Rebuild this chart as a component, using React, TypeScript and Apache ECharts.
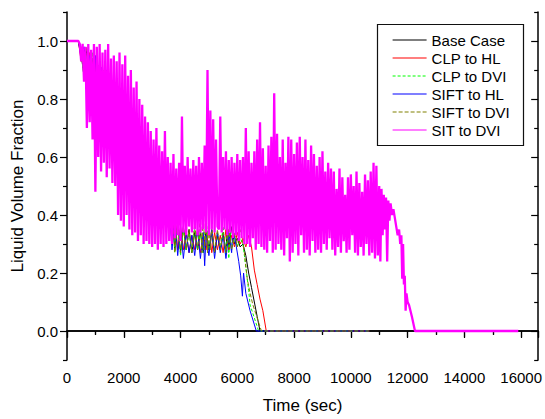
import { useEffect, useRef } from "react";
import * as echarts from "echarts";

const FONT = "'Liberation Sans', Arial, Helvetica, sans-serif";

const SERIES_NAMES = ["Base Case", "CLP to HL", "CLP to DVI", "SIFT to HL", "SIFT to DVI", "SIT to DVI"];
const SERIES_COLORS = ["#000000", "#ff0000", "#00ff00", "#0000ff", "#808000", "#ff00ff"];

const Y_MAJOR = [0, 0.2, 0.4, 0.6, 0.8, 1.0];

const BASE_CASE: number[][] = [
  [0, 1], [400, 1], [500, 0.95], [600, 0.88], [700, 0.97], [800, 0.85], [900, 0.94], [1000, 0.72],
  [1100, 0.9], [1200, 0.7], [1300, 0.88], [1400, 0.68], [1500, 0.86], [1600, 0.62], [1700, 0.84],
  [1800, 0.58], [1900, 0.78], [2000, 0.5], [2100, 0.76], [2200, 0.48], [2300, 0.72], [2400, 0.45],
  [2500, 0.66], [2600, 0.42], [2700, 0.62], [2800, 0.41], [2900, 0.58], [3000, 0.4], [3100, 0.55],
  [3200, 0.39], [3300, 0.52], [3400, 0.38], [3500, 0.48], [3600, 0.34], [3700, 0.42], [3800, 0.28],
  [3900, 0.38], [4000, 0.27], [4100, 0.36], [4200, 0.28], [4300, 0.35], [4400, 0.27], [4500, 0.34],
  [4600, 0.28], [4700, 0.34], [4800, 0.27], [4900, 0.35], [5000, 0.28], [5100, 0.34], [5200, 0.27],
  [5300, 0.33], [5400, 0.28], [5500, 0.34], [5600, 0.27], [5650, 0.37], [5700, 0.28], [5800, 0.36],
  [5900, 0.3], [6000, 0.32], [6100, 0.29], [6200, 0.3], [6300, 0.26], [6400, 0.2], [6500, 0.15],
  [6600, 0.1], [6700, 0.05], [6800, 0.0], [10650, 0.0],
];

const CLP_TO_HL: number[][] = [
  [0, 1], [400, 1], [500, 0.93], [600, 0.97], [700, 0.86], [800, 0.96], [900, 0.74], [1000, 0.93],
  [1100, 0.7], [1200, 0.9], [1300, 0.69], [1400, 0.87], [1500, 0.64], [1600, 0.85], [1700, 0.6],
  [1800, 0.8], [1900, 0.52], [2000, 0.78], [2100, 0.49], [2200, 0.74], [2300, 0.46], [2400, 0.69],
  [2500, 0.44], [2600, 0.64], [2700, 0.42], [2800, 0.6], [2900, 0.4], [3000, 0.56], [3100, 0.39],
  [3200, 0.53], [3300, 0.38], [3400, 0.5], [3500, 0.36], [3600, 0.44], [3700, 0.3], [3800, 0.4],
  [3900, 0.28], [4000, 0.36], [4100, 0.28], [4200, 0.34], [4300, 0.27], [4400, 0.33], [4500, 0.28],
  [4600, 0.35], [4700, 0.27], [4800, 0.33], [4900, 0.28], [5000, 0.36], [5100, 0.27], [5200, 0.34],
  [5300, 0.28], [5400, 0.33], [5500, 0.27], [5600, 0.35], [5700, 0.28], [5800, 0.33], [5900, 0.29],
  [6000, 0.34], [6100, 0.3], [6200, 0.32], [6300, 0.29], [6400, 0.33], [6500, 0.29], [6600, 0.21],
  [6700, 0.16], [6800, 0.11], [6900, 0.07], [7020, 0.0], [10650, 0.0],
];

const CLP_TO_DVI: number[][] = [
  [0, 1], [400, 1], [500, 0.97], [600, 0.87], [700, 0.95], [800, 0.84], [900, 0.96], [1000, 0.7],
  [1100, 0.92], [1200, 0.68], [1300, 0.89], [1400, 0.66], [1500, 0.87], [1600, 0.6], [1700, 0.82],
  [1800, 0.56], [1900, 0.8], [2000, 0.51], [2100, 0.75], [2200, 0.47], [2300, 0.71], [2400, 0.44],
  [2500, 0.67], [2600, 0.43], [2700, 0.63], [2800, 0.4], [2900, 0.57], [3000, 0.39], [3100, 0.54],
  [3200, 0.38], [3300, 0.51], [3400, 0.37], [3500, 0.47], [3600, 0.33], [3700, 0.41], [3800, 0.27],
  [3900, 0.37], [4000, 0.26], [4100, 0.35], [4200, 0.28], [4300, 0.34], [4400, 0.27], [4500, 0.36],
  [4600, 0.28], [4700, 0.34], [4800, 0.27], [4900, 0.39], [5000, 0.28], [5100, 0.35], [5200, 0.27],
  [5300, 0.34], [5400, 0.28], [5500, 0.36], [5600, 0.26], [5650, 0.35], [5700, 0.25], [5750, 0.34],
  [5800, 0.28], [5900, 0.33], [6000, 0.29], [6100, 0.32], [6200, 0.3], [6300, 0.22], [6400, 0.14],
  [6450, 0.09], [6550, 0.06], [6750, 0.0], [10650, 0.0],
];

const SIFT_TO_HL: number[][] = [
  [0, 1], [400, 1], [500, 0.94], [600, 0.98], [700, 0.88], [800, 0.95], [900, 0.76], [1000, 0.95],
  [1100, 0.71], [1200, 0.91], [1300, 0.67], [1400, 0.9], [1500, 0.63], [1600, 0.86], [1700, 0.59],
  [1800, 0.82], [1900, 0.53], [2000, 0.77], [2100, 0.5], [2200, 0.73], [2300, 0.47], [2400, 0.7],
  [2500, 0.43], [2600, 0.65], [2700, 0.41], [2800, 0.59], [2900, 0.39], [3000, 0.55], [3100, 0.38],
  [3200, 0.52], [3300, 0.37], [3400, 0.49], [3500, 0.35], [3600, 0.43], [3700, 0.28], [3800, 0.39],
  [3900, 0.26], [4000, 0.36], [4100, 0.25], [4200, 0.34], [4300, 0.27], [4400, 0.33], [4500, 0.26],
  [4600, 0.35], [4700, 0.25], [4800, 0.34], [4850, 0.225], [4900, 0.33], [5000, 0.26], [5100, 0.35],
  [5200, 0.25], [5300, 0.34], [5400, 0.27], [5500, 0.33], [5600, 0.25], [5700, 0.34], [5800, 0.27],
  [5850, 0.35], [5950, 0.3], [6050, 0.24], [6120, 0.19], [6180, 0.12], [6220, 0.2], [6300, 0.13],
  [6450, 0.07], [6670, 0.0], [10650, 0.0],
];

const SIFT_TO_DVI: number[][] = [
  [0, 1], [400, 1], [500, 0.96], [600, 0.9], [700, 0.98], [800, 0.86], [900, 0.93], [1000, 0.73],
  [1100, 0.91], [1200, 0.69], [1300, 0.9], [1400, 0.67], [1500, 0.85], [1600, 0.61], [1700, 0.83],
  [1800, 0.57], [1900, 0.79], [2000, 0.52], [2100, 0.77], [2200, 0.49], [2300, 0.73], [2400, 0.46],
  [2500, 0.68], [2600, 0.43], [2700, 0.61], [2800, 0.42], [2900, 0.59], [3000, 0.4], [3100, 0.56],
  [3200, 0.39], [3300, 0.53], [3400, 0.38], [3500, 0.48], [3600, 0.35], [3700, 0.42], [3800, 0.27],
  [3900, 0.38], [4000, 0.27], [4100, 0.36], [4200, 0.28], [4300, 0.35], [4400, 0.27], [4500, 0.37],
  [4600, 0.28], [4700, 0.4], [4750, 0.27], [4800, 0.42], [4850, 0.28], [4900, 0.38], [4950, 0.27],
  [5000, 0.4], [5050, 0.28], [5100, 0.36], [5200, 0.27], [5300, 0.35], [5400, 0.28], [5500, 0.34],
  [5600, 0.27], [5700, 0.35], [5800, 0.28], [5900, 0.34], [6000, 0.29], [6100, 0.35], [6150, 0.33],
  [6250, 0.27], [6350, 0.18], [6450, 0.13], [6550, 0.09], [6650, 0.06], [6850, 0.0], [10650, 0.0],
];

// SIT to DVI: sampled every 50 s from 400 s to 11000 s, plus head and tail
const SIT_HEAD: number[][] = [[0, 1]];
const SIT_START = 400;
const SIT_STEP = 50;
const SIT_VALUES: number[] = [
  1.0, 0.99, 0.93, 0.99, 0.86, 0.98, 0.7, 0.99, 0.72, 0.97,
  0.66, 0.99, 0.48, 0.98, 0.6, 0.99, 0.55, 0.96, 0.58, 0.97,
  0.53, 0.99, 0.56, 0.94, 0.51, 0.95, 0.5, 0.93, 0.4, 0.96,
  0.38, 0.92, 0.36, 0.95, 0.4, 0.88, 0.35, 0.9, 0.33, 0.84,
  0.34, 0.86, 0.31, 0.8, 0.33, 0.78, 0.3, 0.74, 0.31, 0.72,
  0.3, 0.69, 0.29, 0.66, 0.3, 0.7, 0.28, 0.64, 0.3, 0.62,
  0.29, 0.69, 0.3, 0.6, 0.31, 0.58, 0.3, 0.61, 0.32, 0.56,
  0.33, 0.58, 0.31, 0.74, 0.34, 0.57, 0.33, 0.6, 0.36, 0.56,
  0.34, 0.59, 0.35, 0.57, 0.33, 0.6, 0.34, 0.58, 0.35, 0.64,
  0.34, 0.9, 0.33, 0.76, 0.35, 0.73, 0.34, 0.66, 0.36, 0.35,
  0.74, 0.34, 0.6, 0.35, 0.62, 0.33, 0.59, 0.34, 0.6, 0.32,
  0.58, 0.33, 0.61, 0.31, 0.59, 0.32, 0.6, 0.3, 0.7, 0.3,
  0.62, 0.29, 0.58, 0.32, 0.62, 0.28, 0.66, 0.3, 0.72, 0.29,
  0.63, 0.28, 0.57, 0.27, 0.64, 0.31, 0.67, 0.27, 0.82, 0.28,
  0.68, 0.3, 0.6, 0.28, 0.66, 0.26, 0.58, 0.32, 0.67, 0.24,
  0.66, 0.27, 0.61, 0.3, 0.65, 0.26, 0.67, 0.33, 0.6, 0.27,
  0.66, 0.28, 0.59, 0.26, 0.64, 0.31, 0.61, 0.27, 0.57, 0.28,
  0.6, 0.27, 0.62, 0.3, 0.55, 0.28, 0.58, 0.32, 0.56, 0.28,
  0.55, 0.26, 0.49, 0.29, 0.56, 0.27, 0.53, 0.31, 0.47, 0.27,
  0.53, 0.28, 0.54, 0.33, 0.5, 0.27, 0.55, 0.26, 0.51, 0.29,
  0.48, 0.26, 0.54, 0.3, 0.52, 0.26, 0.55, 0.27, 0.58, 0.25,
  0.57, 0.26, 0.5,
];
const SIT_TAIL: number[][] = [
  [11040, 0.24], [11080, 0.49], [11120, 0.33], [11160, 0.47], [11200, 0.35], [11240, 0.46],
  [11280, 0.24], [11320, 0.45], [11360, 0.38], [11400, 0.44], [11450, 0.4], [11500, 0.42],
  [11550, 0.39], [11600, 0.36], [11650, 0.33], [11700, 0.35], [11740, 0.3], [11780, 0.33],
  [11810, 0.18], [11840, 0.3], [11870, 0.16], [11900, 0.19], [11930, 0.07], [11960, 0.13],
  [12000, 0.1], [12050, 0.09], [12100, 0.07], [12150, 0.05], [12260, 0.0], [15900, 0.0],
];

const X_MIN = 0;
const X_MAX = 16600;
const X_INTERVAL = 2000;
const Y_MIN = -0.1;
const Y_MAX = 1.1;

export default function App() {
  const ref = useRef<HTMLDivElement>(null);

  useEffect(() => {
    if (!ref.current) return;
    const chart = echarts.init(ref.current, null, { renderer: "svg" });

    const sitData: number[][] = [
      ...SIT_HEAD,
      ...SIT_VALUES.map((v, i) => [SIT_START + i * SIT_STEP, v]),
      ...SIT_TAIL,
    ];
    const allData = [BASE_CASE, CLP_TO_HL, CLP_TO_DVI, SIFT_TO_HL, SIFT_TO_DVI, sitData];
    const lineTypes: any[] = ["solid", "solid", [3, 2], "solid", [4, 2], "solid"];
    const lineWidths = [1, 1, 1, 1, 1, 2.3];

    const axisLine = { show: true, lineStyle: { color: "#000", width: 1.5 } };
    const labelStyle = { color: "#000", fontSize: 15, fontFamily: FONT };

    chart.setOption({
      animation: false,
      backgroundColor: "#fff",
      grid: { left: 67, right: 2, top: 12, bottom: 56, containLabel: false },
      legend: {
        orient: "vertical",
        left: 392,
        top: 32,
        padding: 0,
        itemWidth: 34,
        itemHeight: 10,
        itemGap: 2,
        selectedMode: false,
        data: SERIES_NAMES,
        itemStyle: { opacity: 0 },
        lineStyle: { width: 1.2 },
        textStyle: { color: "#000", fontSize: 15, lineHeight: 16, fontFamily: FONT },
      },
      graphic: [
        {
          type: "rect",
          z: 100,
          shape: { x: 377.5, y: 24.5, width: 146, height: 121 },
          style: { fill: "none", stroke: "#111", lineWidth: 1.2 },
        },
      ],
      xAxis: [
        {
          type: "value",
          position: "bottom",
          min: X_MIN,
          max: X_MAX,
          interval: X_INTERVAL,
          axisLine,
          axisTick: { show: true, inside: false, length: 6, lineStyle: { color: "#000", width: 1.2 } },
          minorTick: { show: true, splitNumber: 2, length: 3.5, lineStyle: { color: "#000", width: 1.2 } },
          splitLine: { show: false },
          axisLabel: { ...labelStyle, margin: 10, formatter: (v: number) => String(v), showMaxLabel: false },
          name: "Time (sec)",
          nameLocation: "middle",
          nameGap: 37,
          nameTextStyle: { color: "#000", fontSize: 17, fontFamily: FONT },
        },
        {
          type: "value",
          position: "top",
          min: X_MIN,
          max: X_MAX,
          interval: X_INTERVAL,
          axisLine,
          axisTick: { show: true, inside: true, length: 7, lineStyle: { color: "#000", width: 1.2 } },
          minorTick: { show: true, splitNumber: 2, length: 4, lineStyle: { color: "#000", width: 1.2 } },
          splitLine: { show: false },
          axisLabel: { show: false },
        },
      ],
      yAxis: [
        {
          type: "value",
          position: "left",
          min: Y_MIN,
          max: Y_MAX,
          interval: 0.1,
          axisLine,
          axisTick: {
            show: true,
            inside: false,
            length: 7,
            customValues: Y_MAJOR,
            lineStyle: { color: "#000", width: 1.2 },
          },
          splitLine: { show: false },
          axisLabel: {
            ...labelStyle,
            margin: 9,
            customValues: Y_MAJOR,
            formatter: (v: number) => v.toFixed(1),
          },
          name: "Liquid Volume Fraction",
          nameLocation: "middle",
          nameGap: 41,
          nameTextStyle: { color: "#000", fontSize: 17, fontFamily: FONT },
        },
        {
          type: "value",
          position: "left",
          min: Y_MIN,
          max: Y_MAX,
          interval: 0.2,
          axisLine: { show: false },
          axisTick: { show: true, inside: false, length: 4, lineStyle: { color: "#000", width: 1.2 } },
          splitLine: { show: false },
          axisLabel: { show: false },
        },
        {
          type: "value",
          position: "right",
          min: Y_MIN,
          max: Y_MAX,
          interval: 0.1,
          axisLine,
          axisTick: {
            show: true,
            inside: true,
            length: 7,
            customValues: Y_MAJOR,
            lineStyle: { color: "#000", width: 1.2 },
          },
          splitLine: { show: false },
          axisLabel: { show: false },
        },
        {
          type: "value",
          position: "right",
          min: Y_MIN,
          max: Y_MAX,
          interval: 0.2,
          axisLine: { show: false },
          axisTick: { show: true, inside: true, length: 4, lineStyle: { color: "#000", width: 1.2 } },
          splitLine: { show: false },
          axisLabel: { show: false },
        },
      ],
      series: SERIES_NAMES.map((name, i) => ({
        name,
        type: "line",
        xAxisIndex: 0,
        yAxisIndex: 0,
        data: allData[i],
        symbol: "none",
        color: SERIES_COLORS[i],
        lineStyle: { color: SERIES_COLORS[i], width: lineWidths[i], type: lineTypes[i] },
        z: 2 + i,
        silent: true,
      })),
    });

    return () => chart.dispose();
  }, []);

  return (
    <div
      ref={ref}
      style={{ position: "absolute", left: 0, top: 0, width: 545, height: 419, background: "#fff" }}
    />
  );
}
